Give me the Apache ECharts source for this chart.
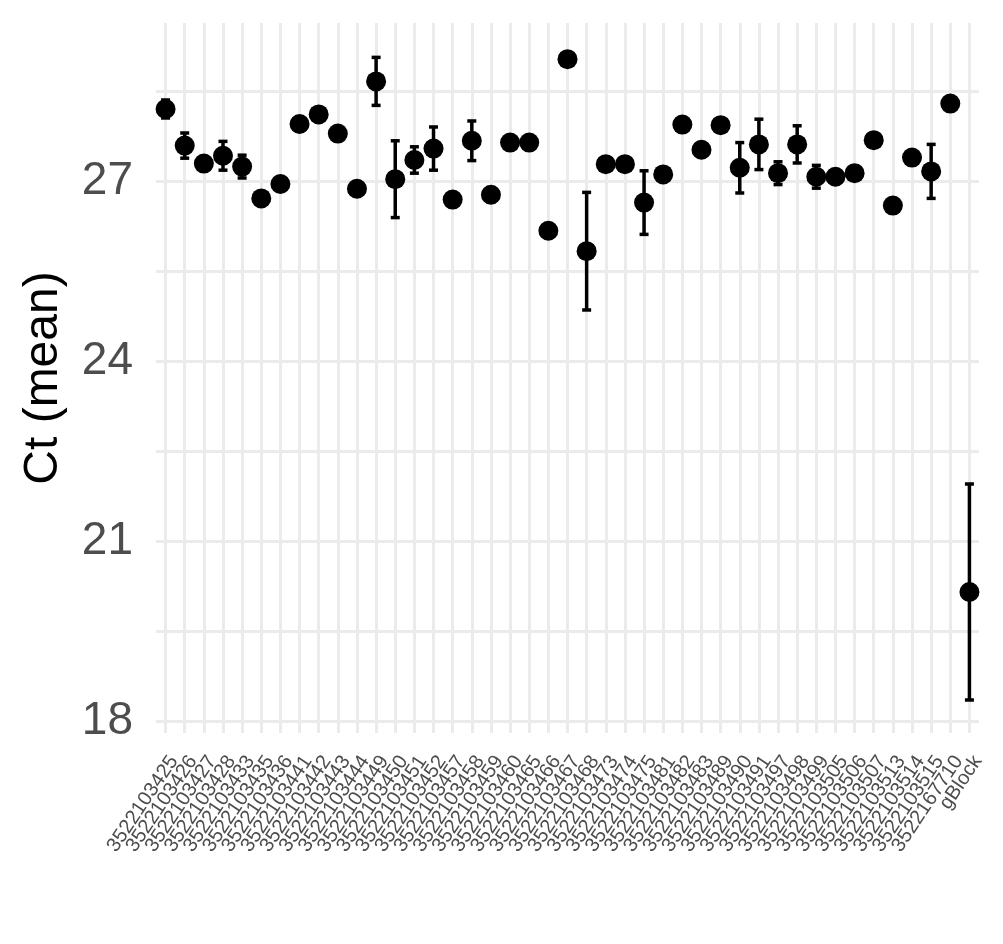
<!DOCTYPE html>
<html>
<head>
<meta charset="utf-8">
<script src="https://cdn.jsdelivr.net/npm/echarts@6/dist/echarts.min.js"></script>
<style>
html,body{margin:0;padding:0;background:#fff;}
#chart{width:1003px;height:944px;}
</style>
</head>
<body>
<div id="chart"></div>
<script>
const categories = ['3522103425','3522103426','3522103427','3522103428','3522103433','3522103435','3522103436','3522103441','3522103442','3522103443','3522103444','3522103449','3522103450','3522103451','3522103452','3522103457','3522103458','3522103459','3522103460','3522103465','3522103466','3522103467','3522103468','3522103473','3522103474','3522103475','3522103481','3522103482','3522103483','3522103489','3522103490','3522103491','3522103497','3522103498','3522103499','3522103505','3522103506','3522103507','3522103513','3522103514','3522103515','3522167710','gBlock'];
const ctMean = [28.20,27.59,27.29,27.42,27.24,26.71,26.95,27.95,28.11,27.79,26.87,28.66,27.03,27.35,27.54,26.69,27.67,26.77,27.64,27.64,26.17,29.03,25.83,27.28,27.28,26.64,27.11,27.94,27.52,27.93,27.22,27.61,27.13,27.61,27.07,27.07,27.13,27.68,26.59,27.39,27.16,28.29,20.15];
const ctSd = [0.15,0.21,0.08,0.24,0.19,0.05,0.05,0.05,0.05,0.05,0.10,0.40,0.64,0.22,0.36,0.10,0.33,0.12,0.05,0.05,0.05,0.05,0.98,0.05,0.05,0.53,0.05,0.05,0.05,0.05,0.42,0.42,0.19,0.31,0.19,0.10,0.05,0.05,0.05,0.05,0.45,0.05,1.80];
const yMajorTicks = [18, 21, 24, 27];
const yGridTicks = [18, 19.5, 21, 22.5, 24, 25.5, 27, 28.5];

const errData = categories.map((c, i) => [i, ctMean[i] - ctSd[i], ctMean[i] + ctSd[i]]);
const pointData = categories.map((c, i) => [i, ctMean[i]]);
const vGrid = categories.map(c => ({xAxis: c}));

const chart = echarts.init(document.getElementById('chart'), null, {renderer: 'canvas'});
chart.setOption({
  animation: false,
  backgroundColor: '#ffffff',
  grid: {left: 156, right: 24, top: 23, bottom: 211, containLabel: false},
  xAxis: {
    type: 'category',
    data: categories,
    boundaryGap: true,
    axisLine: {show: false},
    axisTick: {show: false},
    splitLine: {show: false},
    axisLabel: {
      interval: 0, rotate: 56, margin: 19,
      color: '#4d4d4d', fontSize: 20, fontFamily: 'Liberation Sans, Arial, sans-serif',
      verticalAlign: 'top'
    }
  },
  yAxis: {
    type: 'value',
    min: 17.8, max: 29.633,
    name: 'Ct (mean)',
    nameLocation: 'middle',
    nameGap: 88,
    nameTextStyle: {color: '#000', fontSize: 48, fontFamily: 'Liberation Sans, Arial, sans-serif'},
    axisLine: {show: false},
    axisTick: {show: false, customValues: yGridTicks},
    axisLabel: {customValues: yMajorTicks, color: '#4d4d4d', fontSize: 46, margin: 23, fontFamily: 'Liberation Sans, Arial, sans-serif'},
    splitLine: {show: true, lineStyle: {color: '#ebebeb', width: 3}}
  },
  series: [
    {
      type: 'custom',
      data: errData,
      encode: {x: 0, y: [1, 2]},
      z: 2,
      renderItem: function (params, api) {
        const i = api.value(0);
        const lo = api.coord([i, api.value(1)]);
        const hi = api.coord([i, api.value(2)]);
        const hw = 4.5;
        const style = {stroke: '#000', lineWidth: 3.5, fill: null};
        return {
          type: 'group',
          children: [
            {type: 'line', shape: {x1: lo[0], y1: lo[1], x2: hi[0], y2: hi[1]}, style: style},
            {type: 'line', shape: {x1: lo[0] - hw, y1: lo[1], x2: lo[0] + hw, y2: lo[1]}, style: style},
            {type: 'line', shape: {x1: hi[0] - hw, y1: hi[1], x2: hi[0] + hw, y2: hi[1]}, style: style}
          ]
        };
      }
    },
    {
      type: 'scatter',
      data: pointData,
      symbol: 'circle',
      symbolSize: 20,
      itemStyle: {color: '#000', opacity: 1},
      z: 3,
      markLine: {
        silent: true,
        symbol: ['none', 'none'],
        label: {show: false},
        lineStyle: {color: '#ebebeb', width: 3, type: 'solid'},
        z: 0,
        data: vGrid
      }
    }
  ]
});
</script>
</body>
</html>
